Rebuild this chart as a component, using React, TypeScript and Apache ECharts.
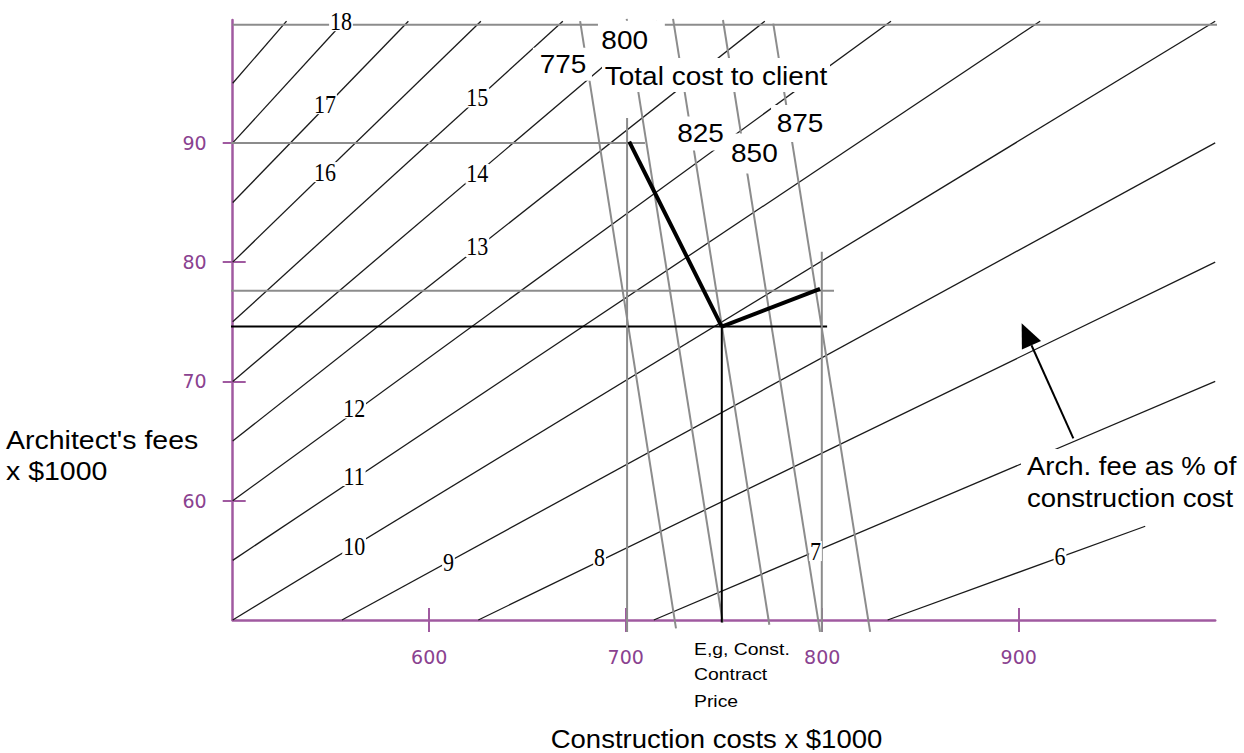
import React, { useEffect, useRef } from "react";
import * as echarts from "echarts";

// ---------- axes ----------
const xTicks = [600, 700, 800, 900];
const yTicks = [60, 70, 80, 90];

// ---------- fee-as-%-of-construction-cost lines ----------
const pctValues = [6, 7, 8, 9, 10, 11, 12, 13, 14, 15, 16, 17, 18, 19];
const pctStartCost = [833.3, 714.3, 625, 555.6, 500, 500, 500, 500, 500, 500, 500, 500, 500, 500];
const pctStartFee = [50, 50, 50, 50, 50, 55, 60, 65, 70, 75, 80, 85, 90, 95];
const pctEndCost = [964.4, 1000, 1000, 1000, 1000, 910.9, 835, 770.8, 715.7, 668, 626.3, 589.4, 556.7, 527.4];
const pctEndFee = [57.86, 70, 80, 90, 100.2, 100.2, 100.2, 100.2, 100.2, 100.2, 100.2, 100.2, 100.2, 100.2];

const pctLabels = ["6", "7", "8", "9", "10", "11", "12", "13", "14", "15", "16", "17", "18"];
const pctLabelCost = [921, 796.6, 686.7, 609.8, 561.8, 561.8, 561.8, 624.5, 624.5, 624.5, 547, 547, 555.1];
const pctLabelFee = [55.3, 55.78, 55.24, 54.86, 56.2, 62.07, 67.73, 81.27, 87.4, 93.8, 87.55, 93.25, 100.2];

// ---------- total cost to client lines ----------
const totalLabels = ["775", "800", "825", "850", "875"];
const totalTopCost = [676.8, 700.5, 724.1, 749.5, 775.1];
const totalTopFee = [100.2, 100.4, 100.4, 100.3, 100.0];
const totalBottomCost = [725.6, 749.4, 773.1, 798.9, 824.4];
const totalBottomFee = [49.3, 49.8, 49.6, 49.0, 49.0];
const totalLabelCost = [667.8, 702.9, 738.1, 765.5, 788.7];
const totalLabelFee = [96.6, 98.57, 90.78, 89.1, 91.62];
const totalLabelPadding = [
  [6, 5, 2, 6],
  [13, 15, 2, 3],
  [8, 5, 1, 5],
  [13, 6, 2, 6],
  [8, 5, 4, 5],
];

// ---------- construction guide lines ----------
const hLineFee = [99.9, 89.98, 77.6, 74.6];
const hLineStartCost = [500, 488.4, 491.5, 498.6];
const hLineEndCost = [1010.1, 709.8, 806, 802.5];
const hLineDark = [false, false, false, true];

const vLineCost = [700.7, 799.8, 748.9];
const vLineTopFee = [92.08, 80.87, 74.6];
const vLineBottomFee = [49.0, 49.0, 49.8];
const vLineDark = [false, false, true];

const junction = [748.9, 74.6];
const thickEnds = [
  [701.8, 90.1],
  [798.9, 77.75],
];

const arrowTail = [927.8, 65.23];
const arrowTip = [901.5, 74.87];

const AXIS_COLOR = "#a05aa0";
const AXIS_LABEL_COLOR = "#8a4290";
const GRAY = "#8c8c8c";
const SANS = '"Liberation Sans", Arial, sans-serif';
const SERIF = '"Liberation Serif", "Times New Roman", serif';

function lineSeries(data: number[][], color: string, width: number, z = 2) {
  return {
    type: "line",
    data,
    symbol: "none",
    showSymbol: false,
    clip: false,
    silent: true,
    lineStyle: { color, width },
    z,
  };
}

function labelSeries(
  data: number[][],
  texts: string[],
  font: string,
  scaleX: number,
  lineHeight: number,
  paddings: number[][] | null,
  z: number
) {
  return {
    type: "custom",
    clip: false,
    silent: true,
    z,
    data,
    renderItem: (params: any, api: any) => {
      const p = api.coord([api.value(0), api.value(1)]);
      const pad = paddings ? paddings[params.dataIndex] : [0, 1, 0, 1];
      return {
        type: "text",
        x: p[0],
        y: p[1],
        scaleX,
        style: {
          text: texts[params.dataIndex],
          font,
          fill: "#000",
          align: "center",
          textAlign: "center",
          verticalAlign: "middle",
          textVerticalAlign: "middle",
          lineHeight,
          backgroundColor: "#fff",
          padding: pad,
        },
      };
    },
  };
}

function textEl(text: string, x: number, y: number, size: number, scaleX: number, align: string) {
  return {
    type: "text",
    z: 21,
    x,
    y,
    scaleX,
    style: {
      text,
      font: `${size}px ${SANS}`,
      fill: "#000",
      align,
      textAlign: align,
      verticalAlign: "middle",
      textVerticalAlign: "middle",
    },
  };
}

export default function App() {
  const ref = useRef<HTMLDivElement>(null);

  useEffect(() => {
    if (!ref.current) return;
    const chart = echarts.init(ref.current, undefined, {
      renderer: "svg",
      width: 1244,
      height: 753,
    });

    const series: any[] = [];

    // percentage lines
    pctValues.forEach((_, i) => {
      series.push(
        lineSeries(
          [
            [pctStartCost[i], pctStartFee[i]],
            [pctEndCost[i], pctEndFee[i]],
          ],
          "#1a1a1a",
          1.3,
          2
        )
      );
    });

    // total cost lines
    totalLabels.forEach((_, i) => {
      series.push(
        lineSeries(
          [
            [totalTopCost[i], totalTopFee[i]],
            [totalBottomCost[i], totalBottomFee[i]],
          ],
          GRAY,
          2,
          3
        )
      );
    });

    // horizontal guide lines
    hLineFee.forEach((f, i) => {
      series.push(
        lineSeries(
          [
            [hLineStartCost[i], f],
            [hLineEndCost[i], f],
          ],
          hLineDark[i] ? "#000" : GRAY,
          2,
          3
        )
      );
    });

    // vertical guide lines
    vLineCost.forEach((c, i) => {
      series.push(
        lineSeries(
          [
            [c, vLineTopFee[i]],
            [c, vLineBottomFee[i]],
          ],
          vLineDark[i] ? "#000" : GRAY,
          2,
          3
        )
      );
    });

    // thick black lines from the example point
    thickEnds.forEach((e) => {
      series.push(lineSeries([junction, e], "#000", 4, 4));
    });

    // arrow
    series.push({
      type: "custom",
      clip: false,
      silent: true,
      z: 4,
      data: [[arrowTail[0], arrowTail[1], arrowTip[0], arrowTip[1]]],
      renderItem: (params: any, api: any) => {
        const a = api.coord([api.value(0), api.value(1)]);
        const b = api.coord([api.value(2), api.value(3)]);
        const dx = b[0] - a[0];
        const dy = b[1] - a[1];
        const len = Math.hypot(dx, dy);
        const ux = dx / len;
        const uy = dy / len;
        const headLen = 24;
        const halfW = 10.5;
        const bx = b[0] - ux * headLen;
        const by = b[1] - uy * headLen;
        const nx = -uy;
        const ny = ux;
        return {
          type: "group",
          children: [
            {
              type: "line",
              shape: { x1: a[0], y1: a[1], x2: bx, y2: by },
              style: { stroke: "#000", lineWidth: 2 },
            },
            {
              type: "polygon",
              shape: {
                points: [
                  [b[0], b[1]],
                  [bx + nx * halfW, by + ny * halfW],
                  [bx - nx * halfW, by - ny * halfW],
                ],
              },
              style: { fill: "#000" },
            },
          ],
        };
      },
    });

    // percentage labels
    series.push(
      labelSeries(
        pctLabels.map((_, i) => [pctLabelCost[i], pctLabelFee[i]]),
        pctLabels,
        `25px ${SERIF}`,
        0.88,
        20,
        null,
        6
      )
    );

    // total cost labels
    series.push(
      labelSeries(
        totalLabels.map((_, i) => [totalLabelCost[i], totalLabelFee[i]]),
        totalLabels,
        `25px ${SANS}`,
        1.12,
        25,
        totalLabelPadding,
        6
      )
    );

    // empty series bound to the inner-tick axes so they get drawn
    series.push({
      type: "line",
      xAxisIndex: 1,
      yAxisIndex: 1,
      data: [],
      symbol: "none",
      silent: true,
    });

    const axisBase = {
      type: "value",
      splitLine: { show: false },
    };

    const option: any = {
      animation: false,
      backgroundColor: "#fff",
      textStyle: { fontFamily: SANS },
      grid: { left: 232.7, right: 28.8, top: 20, bottom: 133, containLabel: false },
      xAxis: [
        {
          ...axisBase,
          min: 500,
          max: 1000,
          position: "bottom",
          axisLine: { show: true, onZero: false, lineStyle: { color: AXIS_COLOR, width: 2.5 } },
          axisTick: {
            show: true,
            customValues: xTicks,
            length: 12,
            lineStyle: { color: AXIS_COLOR, width: 2 },
          },
          axisLabel: {
            show: true,
            customValues: xTicks,
            margin: 27,
            color: AXIS_LABEL_COLOR,
            fontFamily: '"DejaVu Sans", sans-serif',
            fontSize: 19,
          },
        },
        {
          ...axisBase,
          min: 500,
          max: 1000,
          position: "bottom",
          offset: 0,
          axisLine: { show: false, onZero: false },
          axisTick: {
            show: true,
            inside: true,
            customValues: xTicks,
            length: 12,
            lineStyle: { color: AXIS_COLOR, width: 2 },
          },
          axisLabel: { show: false },
        },
      ],
      yAxis: [
        {
          ...axisBase,
          min: 50,
          max: 100.3,
          position: "left",
          axisLine: { show: true, onZero: false, lineStyle: { color: AXIS_COLOR, width: 2.5 } },
          axisTick: {
            show: true,
            customValues: yTicks,
            length: 10,
            lineStyle: { color: AXIS_COLOR, width: 2 },
          },
          axisLabel: {
            show: true,
            customValues: yTicks,
            margin: 26,
            color: AXIS_LABEL_COLOR,
            fontFamily: '"DejaVu Sans", sans-serif',
            fontSize: 19,
          },
        },
        {
          ...axisBase,
          min: 50,
          max: 100.3,
          position: "left",
          offset: 0,
          axisLine: { show: false, onZero: false },
          axisTick: {
            show: true,
            inside: true,
            customValues: yTicks,
            length: 13,
            lineStyle: { color: AXIS_COLOR, width: 2 },
          },
          axisLabel: { show: false },
        },
      ],
      series,
      graphic: {
        elements: [
          { type: "rect", z: 20, shape: { x: 602, y: 58, width: 228, height: 34 }, style: { fill: "#fff" } },
          { type: "rect", z: 20, shape: { x: 1021, y: 449, width: 222, height: 66 }, style: { fill: "#fff" } },
          textEl("Total cost to client", 716, 77, 25, 1.12, "center"),
          textEl("Arch. fee as % of", 1027, 466, 25, 1.1, "left"),
          textEl("construction cost", 1027, 498, 25, 1.1, "left"),
          textEl("Architect's fees", 6, 440.5, 25, 1.14, "left"),
          textEl("x $1000", 6, 472, 25, 1.14, "left"),
          textEl("Construction costs x $1000", 716.5, 739, 25, 1.1, "center"),
          textEl("E,g, Const.", 694, 649, 17, 1.14, "left"),
          textEl("Contract", 694, 674.5, 17, 1.14, "left"),
          textEl("Price", 694, 701, 17, 1.14, "left"),
        ],
      },
    };

    chart.setOption(option);
    return () => chart.dispose();
  }, []);

  return (
    <div
      ref={ref}
      style={{
        position: "absolute",
        left: 0,
        top: 0,
        width: 1244,
        height: 753,
        background: "#fff",
      }}
    />
  );
}
